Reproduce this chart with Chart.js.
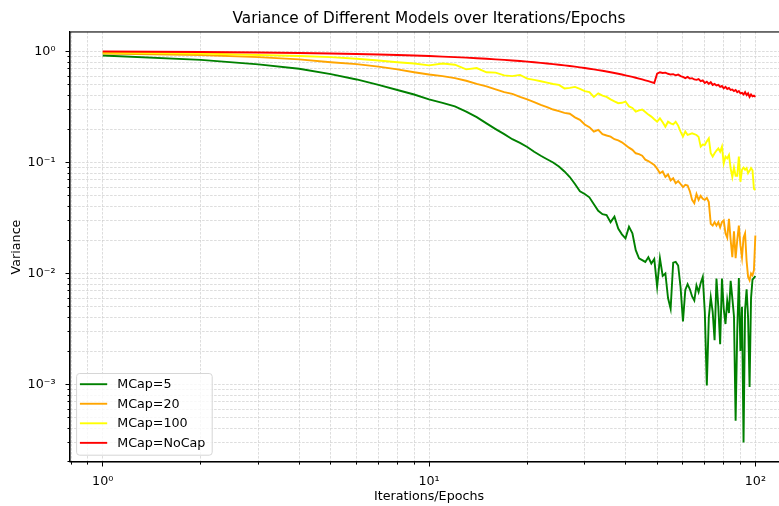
<!DOCTYPE html>
<html>
<head>
<meta charset="utf-8">
<title>Variance of Different Models over Iterations/Epochs</title>
<script src="https://cdn.jsdelivr.net/npm/chart.js@4"></script>
<style>
  html, body { margin: 0; padding: 0; background: #fff; overflow: hidden; }
  #wrap { width: 800px; height: 506px; }
</style>
</head>
<body>
<div id="wrap"><canvas id="chart" width="800" height="506"></canvas></div>
<script>
// iterations / epochs on the x axis
const iterations = [
  1, 2, 3, 4, 5, 6, 7, 8, 9, 10, 11, 12, 13, 14, 15, 16, 17, 18, 19, 20,
  21, 22, 23, 24, 25, 26, 27, 28, 29, 30, 31, 32, 33, 34, 35, 36, 37, 38, 39, 40,
  41, 42, 43, 44, 45, 46, 47, 48, 49, 50, 51, 52, 53, 54, 55, 56, 57, 58, 59, 60,
  61, 62, 63, 64, 65, 66, 67, 68, 69, 70, 71, 72, 73, 74, 75, 76, 77, 78, 79, 80,
  81, 82, 83, 84, 85, 86, 87, 88, 89, 90, 91, 92, 93, 94, 95, 96, 97, 98, 99, 100
];

const seriesLabels = ['MCap=5', 'MCap=20', 'MCap=100', 'MCap=NoCap'];

// values (log scale)
const mcap5 = [
  0.92, 0.84, 0.765, 0.70, 0.625, 0.56, 0.50, 0.45, 0.41, 0.37,
  0.345, 0.32, 0.287, 0.256, 0.225, 0.20, 0.18, 0.162, 0.150, 0.138,
  0.125, 0.115, 0.107, 0.10, 0.092, 0.083, 0.074, 0.064, 0.055, 0.052,
  0.0485, 0.042, 0.0367, 0.0342, 0.0336, 0.029, 0.0325, 0.0254, 0.0225, 0.0207,
  0.0264, 0.023, 0.0162, 0.0137, 0.0132, 0.0127, 0.014, 0.0123, 0.0135, 0.0076,
  0.0137, 0.0095, 0.0100, 0.0060, 0.0048, 0.0125, 0.0127, 0.0118, 0.0075, 0.0037,
  0.0071, 0.0080, 0.0072, 0.0062, 0.0057, 0.0078, 0.0068, 0.0082, 0.0093, 0.0045,
  0.00098, 0.0040, 0.0061, 0.0045, 0.0025, 0.0090, 0.0050, 0.0023, 0.0090, 0.0048,
  0.0035, 0.0057, 0.0044, 0.0086, 0.0060, 0.0041, 0.00047, 0.0030, 0.0091, 0.0020,
  0.0050, 0.00030, 0.0047, 0.0072, 0.0040, 0.00095, 0.0060, 0.0088, 0.0091, 0.0095
];

const mcap20 = [
  0.96, 0.93, 0.89, 0.85, 0.80, 0.77, 0.73, 0.69, 0.65, 0.62,
  0.60, 0.575, 0.545, 0.51, 0.485, 0.455, 0.43, 0.415, 0.39, 0.37,
  0.35, 0.33, 0.315, 0.30, 0.29, 0.28, 0.275, 0.255, 0.242, 0.22,
  0.208, 0.19, 0.197, 0.18, 0.175, 0.171, 0.162, 0.158, 0.152, 0.144,
  0.136, 0.13, 0.121, 0.119, 0.115, 0.106, 0.103, 0.099, 0.095, 0.088,
  0.080, 0.083, 0.074, 0.078, 0.069, 0.072, 0.065, 0.068, 0.064, 0.060,
  0.063, 0.062, 0.055, 0.046, 0.043, 0.052, 0.046, 0.050, 0.047, 0.046,
  0.048, 0.044, 0.028, 0.027, 0.029, 0.027, 0.029, 0.026, 0.029, 0.030,
  0.023, 0.021, 0.031, 0.020, 0.014, 0.024, 0.0137, 0.020, 0.027, 0.018,
  0.014, 0.021, 0.023, 0.013, 0.0093, 0.0087, 0.010, 0.0096, 0.0107, 0.022
];

const mcap100 = [
  0.98, 0.96, 0.93, 0.91, 0.89, 0.86, 0.83, 0.80, 0.78, 0.75,
  0.78, 0.76, 0.69, 0.71, 0.65, 0.645, 0.61, 0.60, 0.615, 0.57,
  0.555, 0.54, 0.525, 0.51, 0.50, 0.465, 0.47, 0.48, 0.46, 0.44,
  0.43, 0.39, 0.42, 0.40, 0.39, 0.37, 0.355, 0.342, 0.345, 0.354,
  0.32, 0.31, 0.287, 0.295, 0.30, 0.285, 0.27, 0.259, 0.245, 0.233,
  0.25, 0.23, 0.21, 0.233, 0.225, 0.22, 0.233, 0.215, 0.19, 0.171,
  0.19, 0.177, 0.18, 0.183, 0.18, 0.177, 0.17, 0.139, 0.145, 0.144,
  0.155, 0.165, 0.121, 0.113, 0.121, 0.128, 0.134, 0.125, 0.139, 0.098,
  0.113, 0.109, 0.117, 0.0886, 0.074, 0.09, 0.076, 0.076, 0.113, 0.067,
  0.086, 0.09, 0.086, 0.089, 0.08, 0.084, 0.089, 0.085, 0.058, 0.0565
];

const mcapNoCap = [
  1.00, 0.99, 0.98, 0.97, 0.96, 0.95, 0.94, 0.93, 0.92, 0.91,
  0.90, 0.89, 0.88, 0.87, 0.86, 0.85, 0.84, 0.83, 0.82, 0.81,
  0.80, 0.79, 0.78, 0.77, 0.76, 0.75, 0.74, 0.73, 0.72, 0.71,
  0.70, 0.69, 0.68, 0.67, 0.66, 0.65, 0.64, 0.63, 0.62, 0.61,
  0.60, 0.59, 0.58, 0.57, 0.56, 0.55, 0.54, 0.53, 0.52, 0.63,
  0.65, 0.64, 0.645, 0.63, 0.62, 0.625, 0.61, 0.62, 0.60, 0.59,
  0.575, 0.59, 0.57, 0.575, 0.56, 0.555, 0.565, 0.54, 0.55, 0.52,
  0.535, 0.51, 0.53, 0.50, 0.51, 0.495, 0.50, 0.48, 0.49, 0.465,
  0.48, 0.46, 0.47, 0.45, 0.455, 0.44, 0.45, 0.43, 0.44, 0.42,
  0.425, 0.41, 0.43, 0.405, 0.42, 0.39, 0.41, 0.395, 0.40, 0.39
];

// axis ticks
const xMajorTicks = [1, 10, 100];
const xTickLabels = ['10\u2070', '10\u00b9', '10\u00b2'];
const xMinorTicks = [0.8, 0.9, 2, 3, 4, 5, 6, 7, 8, 9, 20, 30, 40, 50, 60, 70, 80, 90];
const yMajorTicks = [0.001, 0.01, 0.1, 1];
const yTickLabels = ['10\u207b\u00b3', '10\u207b\u00b2', '10\u207b\u00b9', '10\u2070'];
const yMinorTicks = [
  0.0002, 0.0003, 0.0004, 0.0005, 0.0006, 0.0007, 0.0008, 0.0009,
  0.002, 0.003, 0.004, 0.005, 0.006, 0.007, 0.008, 0.009,
  0.02, 0.03, 0.04, 0.05, 0.06, 0.07, 0.08, 0.09,
  0.2, 0.3, 0.4, 0.5, 0.6, 0.7, 0.8, 0.9
];

const FONT = 'DejaVu Sans';
Chart.defaults.font.family = FONT;
Chart.defaults.color = '#000';

function findMajor(list, v) {
  return list.findIndex(m => Math.abs(m - v) < m * 1e-6);
}

function buildTicks(major, minor) {
  return major.concat(minor).sort((a, b) => a - b).map(v => ({ value: v }));
}

// full box around the axes, like matplotlib spines
const framePlugin = {
  id: 'frame',
  afterDatasetsDraw(chart) {
    const { ctx, chartArea: a } = chart;
    ctx.save();
    ctx.strokeStyle = '#000';
    ctx.lineWidth = 1.1;
    ctx.strokeRect(a.left, a.top, a.right - a.left, a.bottom - a.top);
    ctx.restore();
  }
};

// legend box in the lower left corner of the plot
const cornerLegend = {
  id: 'cornerLegend',
  afterDraw(chart) {
    const { ctx, chartArea: a } = chart;
    const boxW = 135.6, boxH = 81.7, r = 3;
    const x0 = a.left + 6.6, y0 = a.bottom - 6.8 - boxH;
    ctx.save();
    ctx.beginPath();
    ctx.moveTo(x0 + r, y0);
    ctx.arcTo(x0 + boxW, y0, x0 + boxW, y0 + boxH, r);
    ctx.arcTo(x0 + boxW, y0 + boxH, x0, y0 + boxH, r);
    ctx.arcTo(x0, y0 + boxH, x0, y0, r);
    ctx.arcTo(x0, y0, x0 + boxW, y0, r);
    ctx.closePath();
    ctx.fillStyle = 'rgba(255,255,255,0.8)';
    ctx.fill();
    ctx.strokeStyle = '#d6d6d6';
    ctx.lineWidth = 1;
    ctx.stroke();

    ctx.font = '12.7px "' + FONT + '"';
    ctx.textBaseline = 'middle';
    ctx.textAlign = 'left';
    chart.data.datasets.forEach((ds, k) => {
      const cy = y0 + 10.7 + k * 19.55;
      ctx.beginPath();
      ctx.strokeStyle = ds.borderColor;
      ctx.lineWidth = 1.9;
      ctx.moveTo(x0 + 3.3, cy);
      ctx.lineTo(x0 + 30.6, cy);
      ctx.stroke();
      ctx.fillStyle = '#000';
      ctx.fillText(ds.label, x0 + 40.6, cy + 0.5);
    });
    ctx.restore();
  }
};

const lineColors = ['green', 'orange', 'yellow', 'red'];
const seriesValues = [mcap5, mcap20, mcap100, mcapNoCap];

const datasets = seriesValues.map((vals, k) => ({
  label: seriesLabels[k],
  data: iterations.map((it, i) => ({ x: it, y: vals[i] })),
  borderColor: lineColors[k],
  backgroundColor: lineColors[k],
  borderWidth: 1.9,
  pointRadius: 0,
  tension: 0,
  fill: false,
  order: seriesValues.length - k
}));

const gridColor = '#cfcfcf';

new Chart(document.getElementById('chart'), {
  type: 'line',
  data: { datasets: datasets },
  options: {
    responsive: false,
    animation: false,
    events: [],
    layout: { padding: { left: 0, right: 12, top: 0, bottom: 0 } },
    plugins: {
      legend: { display: false },
      tooltip: { enabled: false },
      title: {
        display: true,
        text: 'Variance of Different Models over Iterations/Epochs',
        fullSize: false,
        color: '#000',
        font: { size: 15.3, weight: 'normal' },
        padding: { top: 9.8, bottom: 3.8 }
      }
    },
    scales: {
      x: {
        type: 'logarithmic',
        min: 0.794,
        max: 125.9,
        afterFit: s => { s.height = 44; },
        afterBuildTicks: s => { s.ticks = buildTicks(xMajorTicks, xMinorTicks); },
        ticks: {
          autoSkip: false,
          maxRotation: 0,
          padding: 7.7,
          color: '#000',
          font: { size: 12.7 },
          callback: v => {
            const k = findMajor(xMajorTicks, v);
            return k >= 0 ? xTickLabels[k] : '';
          }
        },
        grid: {
          color: gridColor,
          lineWidth: 0.7,
          tickLength: 4.5,
          tickColor: '#000',
          tickWidth: 1,
          tickBorderDash: c => findMajor(xMajorTicks, c.tick.value) >= 0 ? [] : [2.5, 20]
        },
        border: { display: true, color: '#000', width: 1.1, dash: [2.6, 1.4] },
        title: {
          display: true,
          text: 'Iterations/Epochs',
          color: '#000',
          font: { size: 12.7 },
          padding: { top: 0, bottom: 1.2 }
        }
      },
      y: {
        type: 'logarithmic',
        min: 0.0002,
        max: 1.5,
        afterFit: s => { s.width = 70; },
        afterBuildTicks: s => { s.ticks = buildTicks(yMajorTicks, yMinorTicks); },
        ticks: {
          autoSkip: false,
          padding: 10,
          color: '#000',
          font: { size: 12.7 },
          callback: v => {
            const k = findMajor(yMajorTicks, v);
            return k >= 0 ? yTickLabels[k] : '';
          }
        },
        grid: {
          color: gridColor,
          lineWidth: 0.7,
          tickLength: 4.5,
          tickColor: '#000',
          tickWidth: 1,
          tickBorderDash: c => findMajor(yMajorTicks, c.tick.value) >= 0 ? [] : [0, 2, 2.5, 20]
        },
        border: { display: true, color: '#000', width: 1.1, dash: [2.6, 1.4] },
        title: {
          display: true,
          text: 'Variance',
          color: '#000',
          font: { size: 12.7 },
          padding: { top: 9.5, bottom: 0 }
        }
      }
    }
  },
  plugins: [framePlugin, cornerLegend]
});
</script>
</body>
</html>
